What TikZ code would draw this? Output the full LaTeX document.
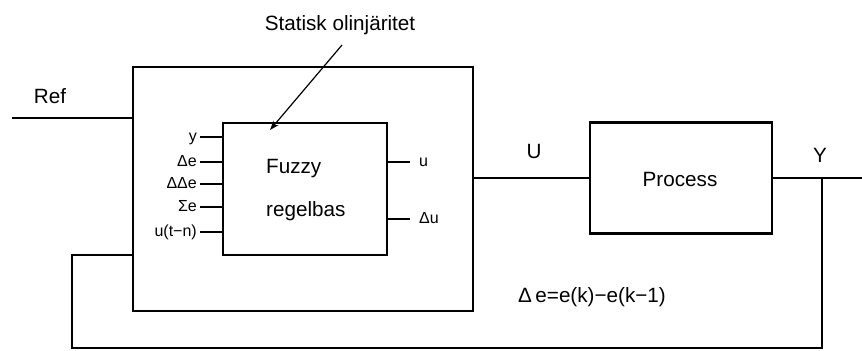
\documentclass[tikz,border=0pt]{standalone}
\usepackage{fontspec}
\setmainfont{Liberation Sans}
\usetikzlibrary{arrows.meta}
\begin{document}
\begin{tikzpicture}[x=0.75pt,y=-0.75pt,
  line width=1.8pt,
  blk/.style={draw,line width=1.8pt,inner sep=0pt},
  big/.style={font=\fontsize{15.5}{18}\selectfont,inner sep=0pt},
  small/.style={font=\fontsize{12}{14}\selectfont,inner sep=0pt},
  wire/.style={line width=1.8pt},
  pointer/.style={line width=0.9pt,-{Stealth[length=7pt,width=5pt]}}]
\useasboundingbox (0,0) rectangle (862,350);
% blocks
\node[blk,minimum width=255pt,minimum height=183pt] (outer) at (303,189) {};
\node[blk,minimum width=123pt,minimum height=99pt] (fuzzy) at (305,189) {};
\node[blk,minimum width=136.5pt,minimum height=83pt] (proc) at (681,178) {};
% texts
\node[big,anchor=base west] (tf) at (265,173) {Fuzzy};
\node[big,anchor=base west] (tr) at (265,216) {regelbas};
\node[big,anchor=base] (tp) at (680,186) {Process};
\node[big,anchor=base] (tstat) at (340,30) {Statisk olinjäritet};
\node[big,anchor=base] (tref) at (50,103) {Ref};
\node[big,anchor=base] (tU) at (534,158) {U};
\node[big,anchor=base] (tY) at (820,162) {Y};
\node[big,anchor=base west] (tde) at (517,302) {Δ\,e=e(k)−e(k−1)};
% input stubs
\foreach \n/\yy/\t in {i1/137/y, i2/162/Δe, i3/184/ΔΔe, i4/207/Σe, i5/232/u(t−n)}{
  \coordinate (\n) at (200,\yy);
  \node[small,anchor=base east] (l\n) at (198,\yy+4) {\t};
  \draw[wire] (\n) -- (\n -| fuzzy.west);
}
% output stubs
\foreach \n/\yy/\t in {o1/162/u, o2/219/Δu}{
  \coordinate (\n) at (410,\yy);
  \node[small,anchor=base west] (l\n) at (418,\yy+4) {\t};
  \draw[wire] (\n -| fuzzy.east) -- (\n);
}
% pointer arrow
\coordinate (ps) at (342,45);
\coordinate (pe) at (270,130);
\draw[pointer] (ps) -- (pe);
% signal lines
\coordinate (refin) at (12,118);
\draw[wire] (refin) -- (refin -| outer.west);
\draw[wire] (outer.east |- proc.west) -- (proc.west);
\coordinate (yout) at (862,178);
\coordinate (yj) at (822,178);
\draw[wire] (proc.east) -- (yout);
\coordinate (fbin) at (133,255);
\coordinate (fb1) at (72,255);
\coordinate (fb2) at (72,348);
\coordinate (fb3) at (822,348);
\draw[wire] (yj) -- (fb3) -- (fb2) -- (fb1) -- (fb1 -| outer.west);
\end{tikzpicture}
\end{document}
